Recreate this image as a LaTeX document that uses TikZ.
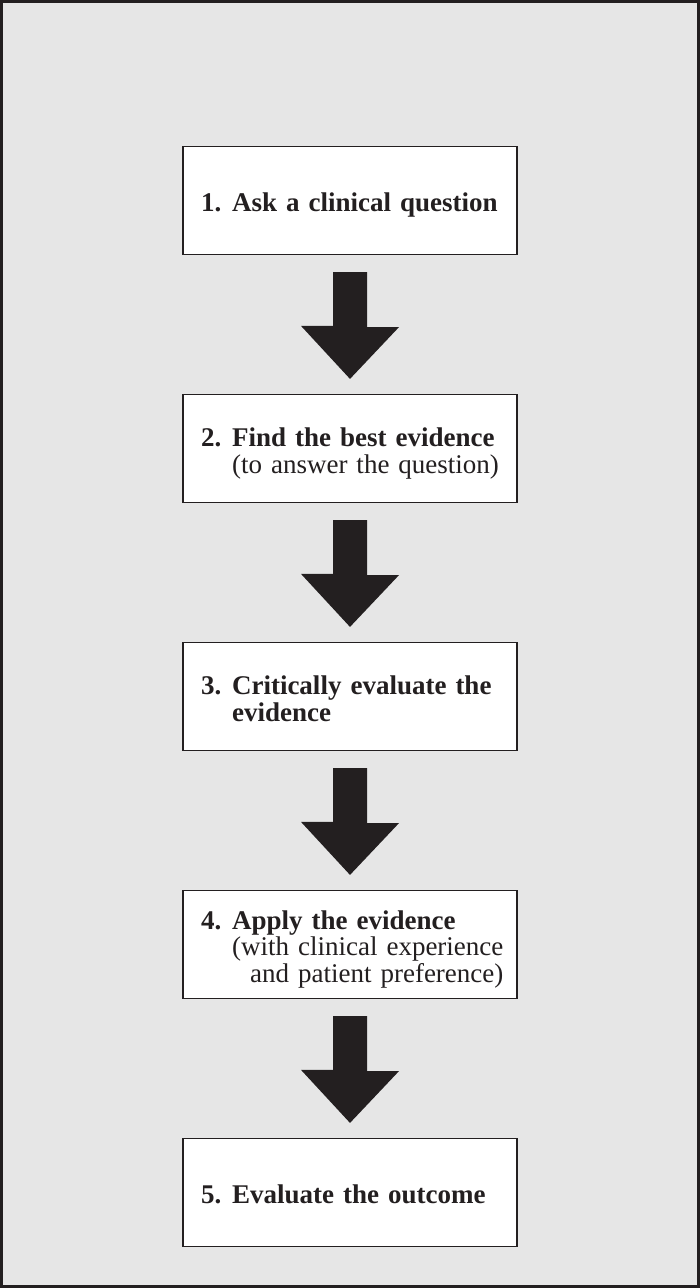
\documentclass[tikz,border=0pt]{standalone}
\usepackage{fontspec}
\setmainfont{Liberation Serif}
\usetikzlibrary{calc}

\definecolor{panelgray}{RGB}{230,230,230}
\definecolor{inkdark}{RGB}{35,31,32}
\newcommand{\stepnum}[1]{\textbf{#1}}
\newcommand{\steptext}[1]{\raisebox{0pt}[\dimexpr\height+12pt\relax]{\begin{tabular}{@{}l@{\hspace{0.4em}}l@{}}#1\end{tabular}}}

\tikzset{
  stepbox/.style={draw=inkdark, line width=1.2pt, fill=white, minimum height=108pt,
    minimum width=334pt, text width=298pt, inner xsep=18pt, align=left,
    font=\fontsize{27}{26.5}\selectfont, text=inkdark},
  bigarrow/.style={fill=inkdark}
}

\begin{document}
\begin{tikzpicture}[x=1pt,y=-1pt]
		% Frame:
		\useasboundingbox (0,0) rectangle (700,1288);
		\draw[draw=inkdark, line width=3pt, fill=panelgray] (1.5,1.5) rectangle (698.5,1286.5);
		% Steps:
		\node[stepbox] (s1) at (350,200.5){\steptext{\stepnum{1.} & \textbf{Ask a clinical question}}};
		\node[stepbox] (s2) at (350,448.5){\steptext{\stepnum{2.} & \textbf{Find the best evidence}\\ & (to answer the question)}};
		\node[stepbox] (s3) at (350,696.5){\steptext{\stepnum{3.} & \textbf{Critically evaluate the}\\ & \textbf{evidence}}};
		\node[stepbox] (s4) at (350,944.5){\steptext{\stepnum{4.} & \textbf{Apply the evidence}\\ & (with clinical experience\\ & \multicolumn{1}{@{}r@{}}{and patient preference)}}};
		\node[stepbox] (s5) at (350,1192.5){\steptext{\stepnum{5.} & \textbf{Evaluate the outcome}}};
		% Arrows:
		\foreach \a/\b in {s1/s2,s2/s3,s3/s4,s4/s5}
			\fill[bigarrow] ($(\a.south)+(-17,17)$) -- ++(34,0) -- ++(0,55) -- ++(32,0) -- ($(\b.north)+(0,-15)$) -- ++(-49,-53) -- ++(32,0) -- cycle;
	\end{tikzpicture}
\end{document}
